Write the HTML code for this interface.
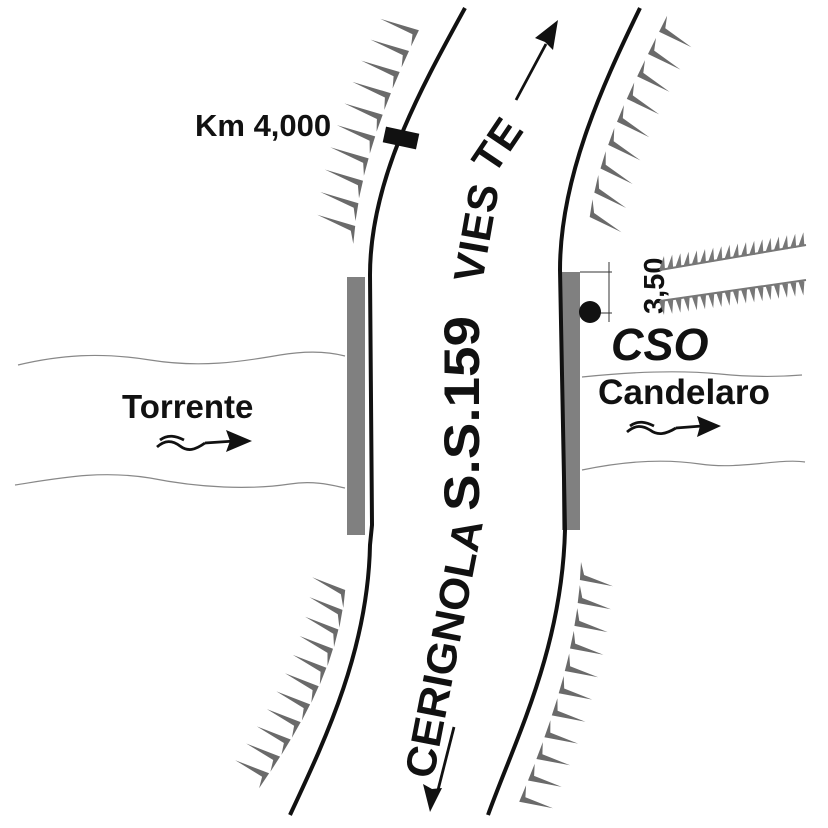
<!DOCTYPE html>
<html><head><meta charset="utf-8"><style>
html,body{margin:0;padding:0;background:#fff}
svg{display:block}
text{font-family:"Liberation Sans",Arial,sans-serif;font-weight:bold;fill:#111}
</style></head><body>
<svg id="s" width="828" height="828" viewBox="0 0 828 828" xmlns="http://www.w3.org/2000/svg">
<g fill="none" stroke="#888" stroke-width="1.2">
<path d="M18,365 C60,355 100,352 150,360 C200,368 240,362 280,355 C310,350 330,352 345,356"/>
<path d="M15,485 C60,478 100,470 150,478 C200,488 250,490 290,484 C315,480 335,486 345,488"/>
<path d="M582,377 C630,372 680,370 720,374 C760,378 790,376 802,375"/>
<path d="M582,470 C620,462 660,458 700,464 C740,470 780,458 805,462"/>
</g>
<rect x="347" y="277" width="18" height="258" fill="#808080"/>
<rect x="562" y="272" width="18" height="258" fill="#808080"/>
<g fill="none" stroke="#111" stroke-width="4">
<path d="M465,8 C420,90 370,180 370,275 L372,525 L370,545 C368,650 325,740 290,815"/>
<path d="M640,8 C600,90 560,180 560,270 L565,530 C562,650 515,740 488,815"/>
</g>
<path id="g1" d="M418,32 C390,90 362,160 355,228" fill="none" stroke="none"/>
<path id="g2" d="M345,592 C338,660 305,720 268,775" fill="none" stroke="none"/>
<path id="g3" d="M660,30 C630,90 600,150 590,215" fill="none" stroke="none"/>
<path id="g4" d="M580,578 C575,660 545,740 520,800" fill="none" stroke="none"/>
<g id="h" fill="#6a6a6a"></g>
<rect x="384" y="130" width="34" height="16" fill="#111" transform="rotate(12 401 138)"/>
<g stroke="#333" stroke-width="1" fill="none">
<line x1="580" y1="272" x2="612" y2="272"/>
<line x1="580" y1="313" x2="612" y2="313"/>
<line x1="609" y1="262" x2="609" y2="322"/>
</g>
<circle cx="590" cy="312" r="11" fill="#111"/>
<g fill="none" stroke="#111" stroke-width="2.8">
<path d="M157,447 C165,440 172,440 180,446 C188,452 195,450 205,443"/>
<path d="M160,440 C168,434 176,436 184,440"/>
<path d="M205,443 L235,441"/>
<path d="M627,432 C635,425 642,425 650,430 C658,436 666,434 676,428"/>
<path d="M630,426 C638,420 646,422 654,426"/>
<path d="M676,428 L702,426"/>
<path d="M516,100 L546,44"/>
<path d="M454,727 L438,790"/>
</g>
<g fill="#111">
<polygon points="252,441 226,430 230,441 226,452"/>
<polygon points="721,426 697,416 700,426 697,437"/>
<polygon points="558,20 535,38 545,42 553,50"/>
<polygon points="430,812 423,784 432,789 442,788"/>
</g>
<text x="195" y="136" font-size="31">Km 4,000</text>
<text x="122" y="418" font-size="33">Torrente</text>
<text x="598" y="404" font-size="35" textLength="172" lengthAdjust="spacingAndGlyphs">Candelaro</text>
<text x="611" y="360" font-size="45" font-style="italic">CSO</text>
<text font-size="29" transform="translate(664,314) rotate(-90)">3,50</text>
<text font-size="50" transform="translate(479,511) rotate(-90)" textLength="195" lengthAdjust="spacingAndGlyphs">S.S.159</text>
<text font-size="42" letter-spacing="1" transform="translate(482,284) rotate(-80)">VIES</text>
<text font-size="42" letter-spacing="1" transform="translate(494,176) rotate(-56)">TE</text>
<text font-size="42" transform="translate(433,780) rotate(-79)" textLength="262" lengthAdjust="spacingAndGlyphs">CERIGNOLA</text>
<g id="rows" fill="#777"></g>
</svg>
<script>
var NS="http://www.w3.org/2000/svg",h=document.getElementById('h');
function poly(g,pts){var p=document.createElementNS(NS,'polygon');p.setAttribute('points',pts.map(function(a){return a[0].toFixed(1)+','+a[1].toFixed(1)}).join(' '));g.appendChild(p);}
function hatch(id,n,dx,dy,len,bs){
 var P=document.getElementById(id),L=P.getTotalLength();
 var m=Math.hypot(dx,dy);dx/=m;dy/=m;
 for(var i=0;i<n;i++){
  var s=L*i/(n-1),a=P.getPointAtLength(s),b=P.getPointAtLength(Math.min(L,s+1)),c=P.getPointAtLength(Math.max(0,s-1));
  var tx=b.x-c.x,ty=b.y-c.y,tm=Math.hypot(tx,ty)||1;tx/=tm;ty/=tm;
  var e=bs;
  poly(h,[[a.x+tx*e*16,a.y+ty*e*16],[a.x+dx*4+tx*e*4,a.y+dy*4+ty*e*4],[a.x+dx*len,a.y+dy*len],[a.x-tx*e*2,a.y-ty*e*2]]);
 }
}
hatch('g1',10,-1,-0.35,40,1);
hatch('g2',11,-1,-0.45,36,1);
hatch('g3',9,1,0.55,36,-1);
hatch('g4',11,1,0.25,34,-1);
var r=document.getElementById('rows');
for(var i=0;i<18;i++){
 var x=662+i*8.2;
 var y1=270-(x-662)*0.17, y2=301-(x-662)*0.14;
 poly(r,[[x-3,y1],[x+3,y1],[x+2,y1-14]]);
 poly(r,[[x-3,y2],[x+3,y2],[x+2,y2+14]]);
}
var l1=document.createElementNS(NS,'path');l1.setAttribute('d','M660,270 L806,245 M660,301 L806,280');l1.setAttribute('stroke','#777');l1.setAttribute('stroke-width','2');l1.setAttribute('fill','none');r.appendChild(l1);
</script>
</body></html>
